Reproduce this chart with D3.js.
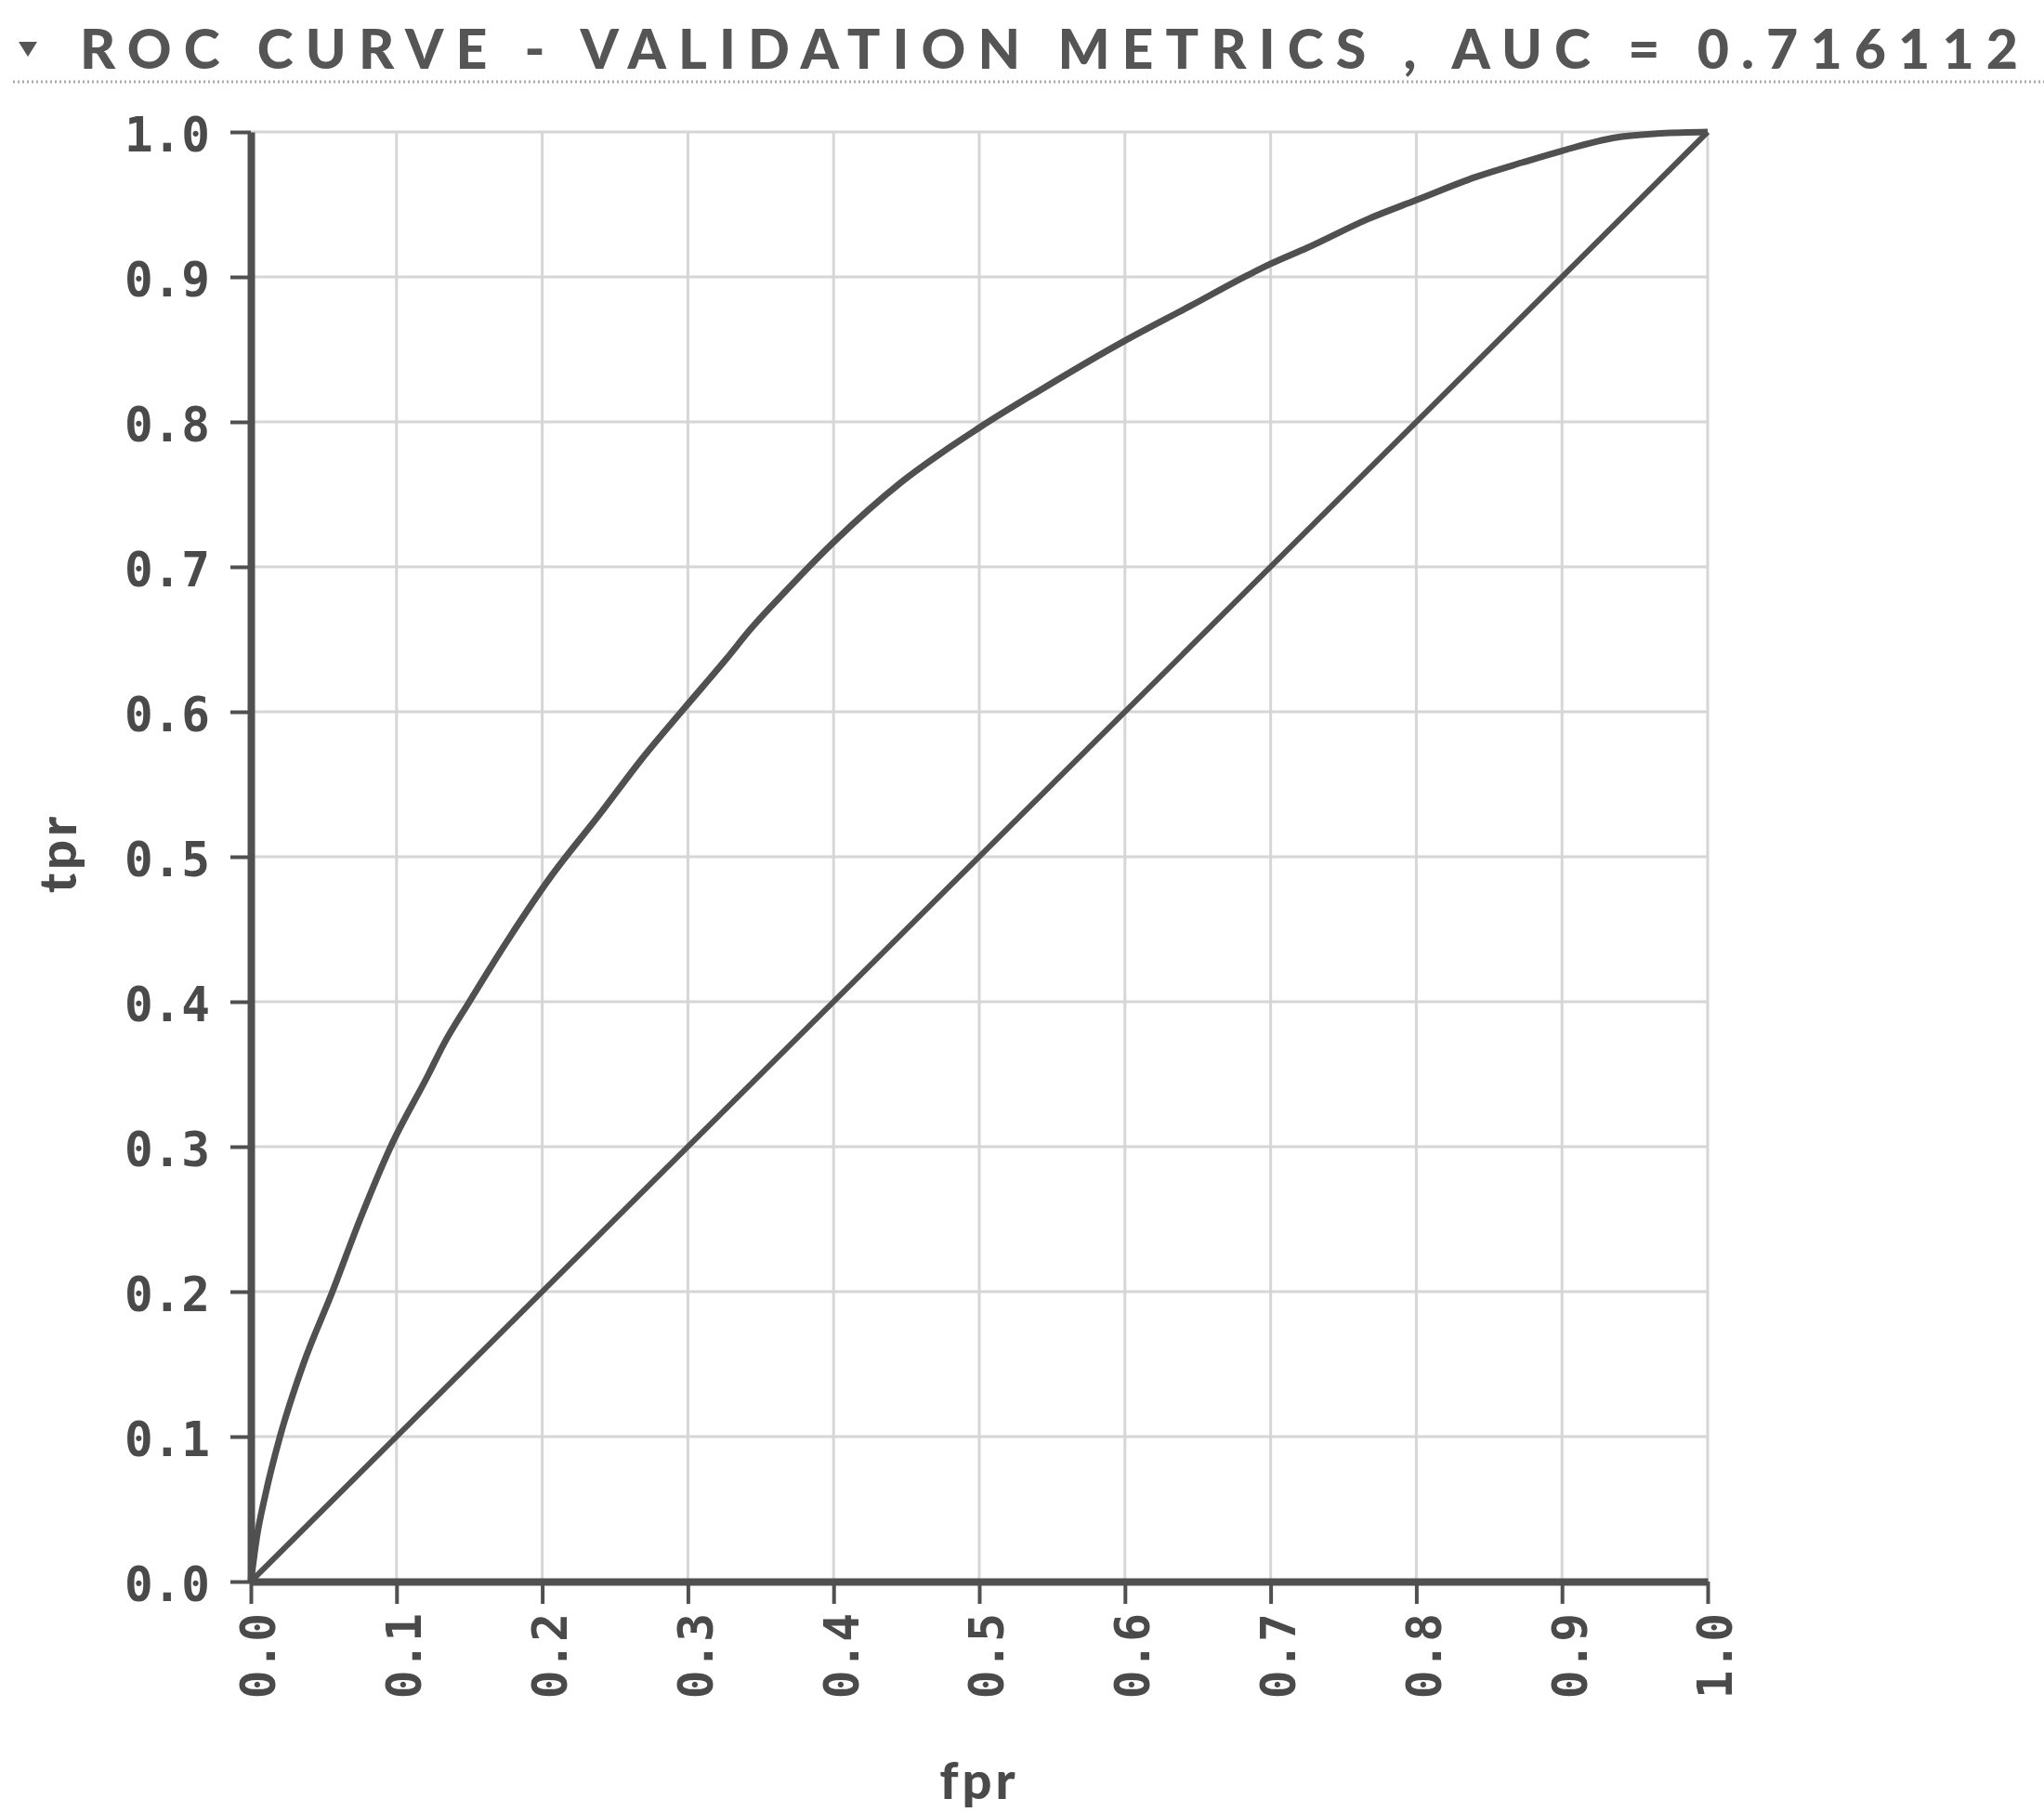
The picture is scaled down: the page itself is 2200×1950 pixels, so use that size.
<!DOCTYPE html>
<html>
<head>
<meta charset="utf-8">
<script src="https://cdn.jsdelivr.net/npm/d3@7"></script>
<style>
  body { margin: 0; background: #fff; }
  .axis path, .axis line { stroke: #505050; }
  .axis path { stroke-width: 8px; }
  .axis line { stroke-width: 4px; }
  .axis text { font-family: "DejaVu Sans Mono", monospace; font-weight: bold; font-size: 51px; fill: #4a4a4a; }
  .grid line { stroke: #d6d6d6; stroke-width: 3px; }
  .title { font-family: Lato, sans-serif; font-weight: 900; font-size: 59px; fill: #555; }
  .axis-title { font-family: Lato, sans-serif; font-weight: 900; font-size: 56px; fill: #4a4a4a; letter-spacing: 4px; }
</style>
</head>
<body>
<div id="chart"></div>
<script>
// ROC points
const fpr = [0, 0.004, 0.01, 0.02, 0.036, 0.056, 0.075, 0.096, 0.122, 0.132, 0.150, 0.178, 0.205,
             0.240, 0.268, 0.298, 0.326, 0.343, 0.365, 0.400, 0.446, 0.500, 0.542, 0.600, 0.645,
             0.684, 0.700, 0.725, 0.767, 0.800, 0.841, 0.873, 0.900, 0.936, 0.968, 1.0];
const tpr = [0, 0.03, 0.06, 0.10, 0.15, 0.20, 0.25, 0.30, 0.35, 0.37, 0.40, 0.445, 0.485,
             0.530, 0.567, 0.603, 0.636, 0.657, 0.681, 0.717, 0.758, 0.796, 0.822, 0.856, 0.880,
             0.901, 0.909, 0.920, 0.940, 0.953, 0.969, 0.979, 0.987, 0.996, 0.999, 1.0];
const diagFpr = [0, 1];
const diagTpr = [0, 1];
const tickValues = [0, 0.1, 0.2, 0.3, 0.4, 0.5, 0.6, 0.7, 0.8, 0.9, 1.0];
const titleText = "ROC CURVE - VALIDATION METRICS , AUC = 0.716112";
const xTitle = "fpr";
const yTitle = "tpr";

const margin = {top: 142, right: 362, bottom: 248, left: 270},
      width = 2200 - margin.left - margin.right,
      height = 1950 - margin.top - margin.bottom;

const root = d3.select("#chart").append("svg")
    .attr("width", 2200)
    .attr("height", 1950);

root.append("rect").attr("width", 2200).attr("height", 1950).attr("fill", "#fff");

// header
root.append("path")
    .attr("d", "M20,45 L40,45 L30,61 Z")
    .attr("fill", "#555");
root.append("text")
    .attr("class", "title")
    .attr("x", 86)
    .attr("y", 74)
    .attr("textLength", 2086)
    .attr("lengthAdjust", "spacing")
    .text(titleText);
root.append("line")
    .attr("x1", 14).attr("x2", 2200)
    .attr("y1", 88).attr("y2", 88)
    .attr("stroke", "#aaa")
    .attr("stroke-width", 3)
    .attr("stroke-dasharray", "2,3");

const svg = root.append("g")
    .attr("transform", "translate(" + margin.left + "," + margin.top + ")");

const x = d3.scaleLinear().domain([0, 1]).range([0, width]);
const y = d3.scaleLinear().domain([0, 1]).range([height, 0]);

// grid
const grid = svg.append("g").attr("class", "grid");
grid.selectAll(".gx").data(tickValues.slice(1)).enter().append("line")
    .attr("x1", d => x(d)).attr("x2", d => x(d))
    .attr("y1", 0).attr("y2", height);
grid.selectAll(".gy").data(tickValues.slice(1)).enter().append("line")
    .attr("x1", 0).attr("x2", width)
    .attr("y1", d => y(d)).attr("y2", d => y(d));

const fmt = d3.format(".1f");

const yAxis = d3.axisLeft(y)
    .tickValues(tickValues)
    .tickFormat(fmt)
    .tickSize(22)
    .tickSizeOuter(0)
    .tickPadding(22);

const xAxis = d3.axisBottom(x)
    .tickValues(tickValues)
    .tickFormat(fmt)
    .tickSize(24)
    .tickSizeOuter(0);

svg.append("g")
    .attr("class", "axis")
    .call(yAxis)
  .selectAll("text")
    .attr("dy", "0.4em");

svg.append("g")
    .attr("class", "axis")
    .attr("transform", "translate(0," + height + ")")
    .call(xAxis)
  .selectAll("text")
    .attr("transform", "rotate(-90)")
    .attr("x", -34)
    .attr("y", 8)
    .attr("dy", "0.35em")
    .style("text-anchor", "end");

// lines
const line = d3.line()
    .x(i => x(i[0]))
    .y(i => y(i[1]))
    .curve(d3.curveMonotoneX);

svg.append("path")
    .datum(diagFpr.map((d, i) => [d, diagTpr[i]]))
    .attr("fill", "none")
    .attr("stroke", "#505050")
    .attr("stroke-width", 6)
    .attr("d", line);

svg.append("path")
    .datum(fpr.map((d, i) => [d, tpr[i]]))
    .attr("fill", "none")
    .attr("stroke", "#505050")
    .attr("stroke-width", 7)
    .attr("stroke-linejoin", "round")
    .attr("d", line);

// axis titles
root.append("text")
    .attr("class", "axis-title")
    .attr("x", margin.left + width / 2)
    .attr("y", 1936)
    .attr("text-anchor", "middle")
    .text(xTitle);

root.append("text")
    .attr("class", "axis-title")
    .attr("transform", "translate(82,918) rotate(-90)")
    .attr("text-anchor", "middle")
    .text(yTitle);
</script>
</body>
</html>
